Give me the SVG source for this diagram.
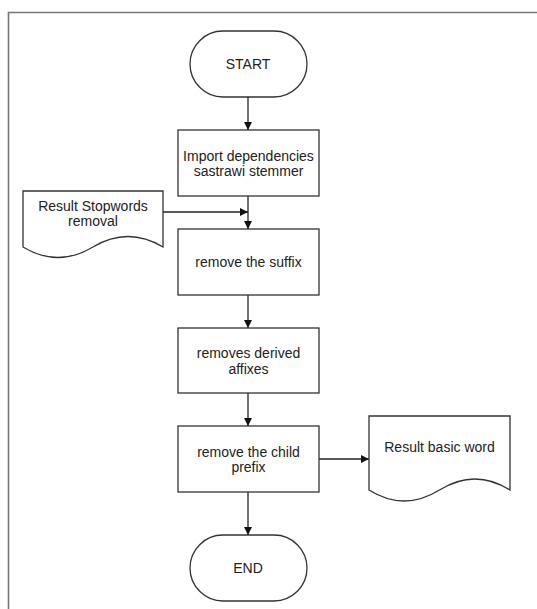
<svg xmlns="http://www.w3.org/2000/svg" width="537" height="609" viewBox="0 0 537 609">
<defs>
<marker id="arr" viewBox="0 0 10 10" refX="10" refY="5" markerWidth="8" markerHeight="8" markerUnits="userSpaceOnUse" orient="auto">
<path d="M0,0 L10,5 L0,10 Z" fill="#111"/>
</marker>
</defs>
<style>
.shape{fill:#fff;stroke:#333;stroke-width:1.3}
.lbl{font-family:"Liberation Sans",Arial,sans-serif;font-size:14px;fill:#222;text-anchor:middle;dominant-baseline:central}
.edge{fill:none;stroke:#222;stroke-width:1.3;marker-end:url(#arr)}
</style>
<rect width="537" height="609" fill="#fff"/>
<path d="M8.5,609 V12.5 H537" fill="none" stroke="#777" stroke-width="1.6"/>
<g id="connectors">
<path class="edge" d="M248,97 V130"/>
<path class="edge" d="M248,196 V229"/>
<path class="edge" d="M163,212 H248"/>
<path class="edge" d="M248,295 V328"/>
<path class="edge" d="M248,393 V426"/>
<path class="edge" d="M319,459 H369"/>
<path class="edge" d="M248,492 V535"/>
</g>
<g id="start">
<rect class="shape" x="190" y="31" width="117" height="66" rx="33" ry="33"/>
<text class="lbl" x="248" y="64">START</text>
</g>
<g id="import">
<rect class="shape" x="178" y="130" width="141" height="66"/>
<text class="lbl" x="248.5" y="156">Import dependencies</text>
<text class="lbl" x="248.5" y="171">sastrawi stemmer</text>
</g>
<g id="stopwords">
<path class="shape" d="M23,191 L163,191 L163,247 Q128,226 93,247 Q58,268 23,247 Z"/>
<text class="lbl" x="93" y="206">Result Stopwords</text>
<text class="lbl" x="93" y="221">removal</text>
</g>
<g id="suffix">
<rect class="shape" x="178" y="229" width="141" height="66"/>
<text class="lbl" x="248.5" y="262">remove the suffix</text>
</g>
<g id="derived">
<rect class="shape" x="178" y="328" width="141" height="65"/>
<text class="lbl" x="248.5" y="353">removes derived</text>
<text class="lbl" x="248.5" y="369">affixes</text>
</g>
<g id="prefix">
<rect class="shape" x="178" y="426" width="141" height="66"/>
<text class="lbl" x="248.5" y="452">remove the child</text>
<text class="lbl" x="248.5" y="467">prefix</text>
</g>
<g id="basicword">
<path class="shape" d="M369,416 L510,416 L510,490 Q475,468 439.5,490 Q404,512 369,490 Z"/>
<text class="lbl" x="439.5" y="447">Result basic word</text>
</g>
<g id="end">
<rect class="shape" x="190" y="535" width="117" height="66" rx="33" ry="33"/>
<text class="lbl" x="248" y="568">END</text>
</g>
</svg>
